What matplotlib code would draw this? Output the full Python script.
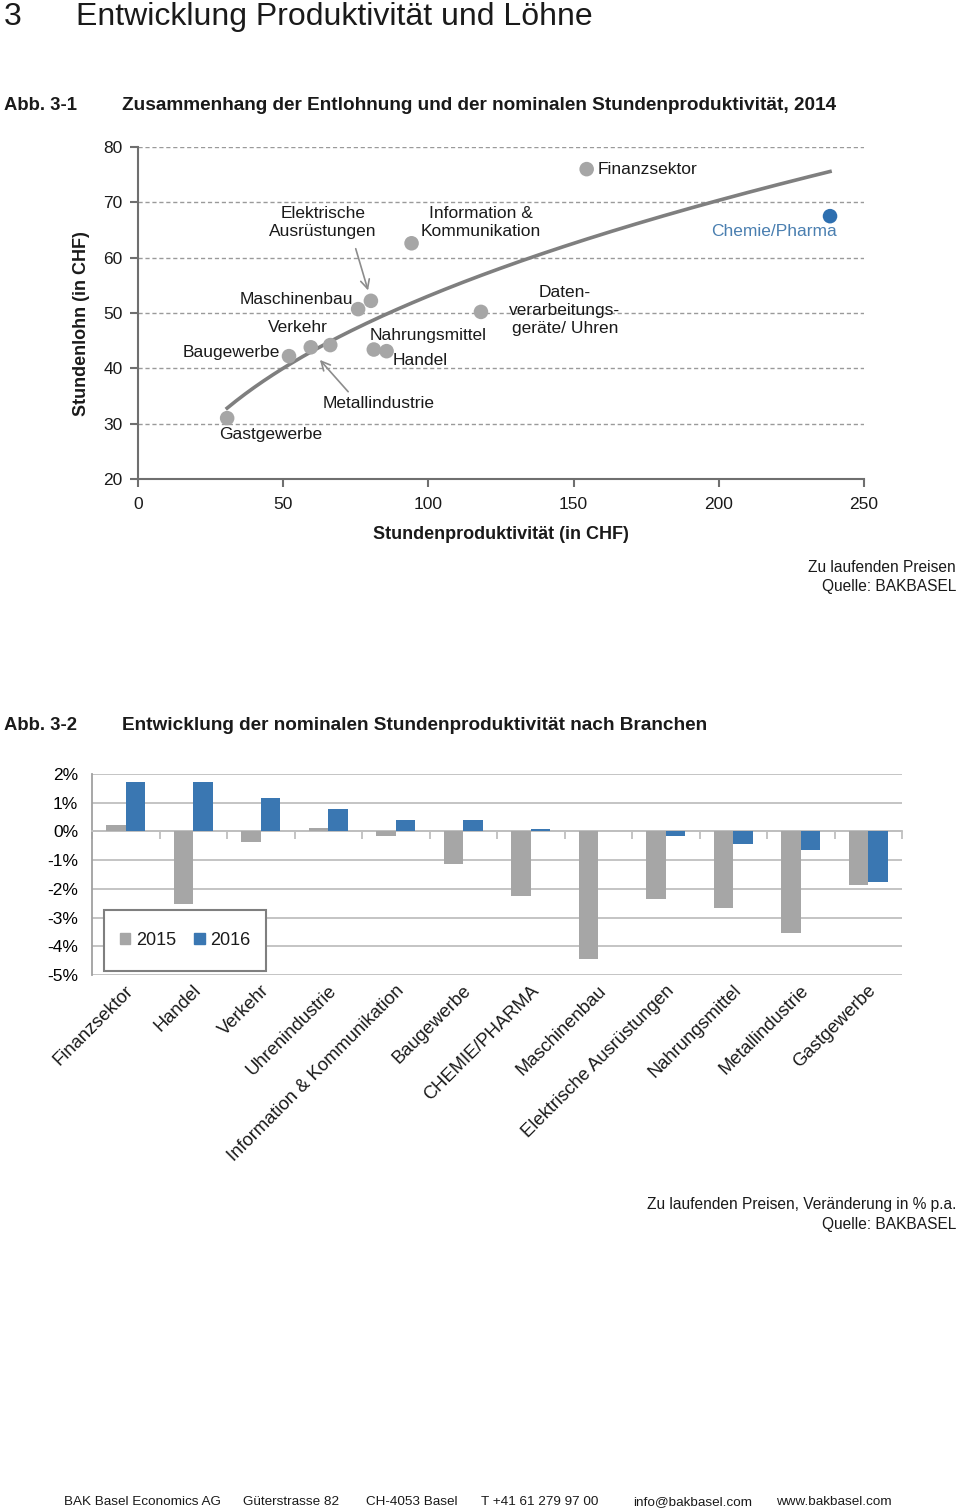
import numpy as np
import matplotlib
matplotlib.use('Agg')
import matplotlib.pyplot as plt
import matplotlib.transforms as mtransforms
from matplotlib.patches import Patch, Rectangle

plt.rcParams['font.family'] = ['Liberation Sans', 'DejaVu Sans']
plt.rcParams['text.color'] = '#1a1a1a'

W, H = 960, 1509
GRAU = '#a6a6a6'
BLAU = '#3a77b2'

#==========================================
# Abb. 3-1: Lohn vs. Stundenproduktivitaet
#==========================================
branchen = ['Gastgewerbe', 'Baugewerbe', 'Verkehr', 'Metallindustrie', 'Maschinenbau',
            'Elektrische\nAusrüstungen', 'Nahrungsmittel', 'Handel',
            'Information &\nKommunikation', 'Daten-\nverarbeitungs-\ngeräte/ Uhren',
            'Finanzsektor', 'Chemie/Pharma']
produktivitaet = [30.7, 52.0, 59.5, 66.2, 75.8, 80.2, 81.2, 85.6, 94.2, 118.1, 154.5, 238.3]
lohn = [31.0, 42.2, 43.8, 44.2, 50.7, 52.2, 43.4, 43.1, 62.6, 50.2, 76.0, 67.5]
x_ticks = [0, 50, 100, 150, 200, 250]
y_ticks = [20, 30, 40, 50, 60, 70, 80]

# label placement (data coords, alignment)
label_pos = [(45.8, 28.1, 'center'), (48.9, 42.8, 'right'), (55.1, 47.3, 'center'),
             (83.0, 33.7, 'center'), (74.0, 52.4, 'right'), (63.7, 66.3, 'center'),
             (79.9, 46.0, 'left'), (87.8, 41.5, 'left'), (118.1, 66.4, 'center'),
             (147.0, 50.5, 'center'), (158.4, 76.0, 'left'), (240.7, 64.8, 'right')]

#==========================================
# Abb. 3-2: Veraenderung Stundenproduktivitaet
#==========================================
kategorien = ['Finanzsektor', 'Handel', 'Verkehr', 'Uhrenindustrie',
              'Information & Kommunikation', 'Baugewerbe', 'CHEMIE/PHARMA',
              'Maschinenbau', 'Elektrische Ausrüstungen', 'Nahrungsmittel',
              'Metallindustrie', 'Gastgewerbe']
wachstum_2015 = [0.22, -2.51, -0.37, 0.12, -0.15, -1.14, -2.24, -4.45, -2.36, -2.68, -3.52, -1.86]
wachstum_2016 = [1.71, 1.71, 1.16, 0.79, 0.40, 0.40, 0.07, 0.0, -0.15, -0.43, -0.66, -1.76]
pct_ticks = [2, 1, 0, -1, -2, -3, -4, -5]


def box(l, t, r, b):
    return [l / W, 1 - b / H, (r - l) / W, (b - t) / H]


def ftext(x, y, s, **kw):
    fig.text(x / W, 1 - y / H, s, **kw)


fig = plt.figure(figsize=(W / 100, H / 100), dpi=100)

# headings
ftext(4, 25, '3', fontsize=23, va='baseline')
ftext(76, 25, 'Entwicklung Produktivität und Löhne', fontsize=23, va='baseline')
ftext(4, 105, 'Abb. 3-1', fontsize=13.3, weight='bold', va='center')
ftext(122, 105, 'Zusammenhang der Entlohnung und der nominalen Stundenproduktivität, 2014',
      fontsize=13.7, weight='bold', va='center')

#---------------- scatter ----------------
ax = fig.add_axes(box(138, 147, 864, 479))
ax.set_xlim(0, 250)
ax.set_ylim(20, 80)

# power trendline fitted on the data
b, ln_a = np.polyfit(np.log(produktivitaet), np.log(lohn), 1)
xs = np.linspace(min(produktivitaet), max(produktivitaet), 200)
ax.plot(xs, np.exp(ln_a) * xs ** b, color='#7f7f7f', lw=2.6, zorder=2)

farben = [GRAU] * (len(branchen) - 1) + ['#2e6fb0']
ax.scatter(produktivitaet, lohn, s=110, color=farben, zorder=3, linewidths=0)

for name, (tx, ty, ha) in zip(branchen, label_pos):
    col = '#4a7fb0' if name == 'Chemie/Pharma' else '#1a1a1a'
    ax.text(tx, ty, name, ha=ha, va='center', fontsize=12.5, color=col,
            linespacing=1.25, zorder=4)

arrow = dict(arrowstyle='->', color='#8c8c8c', lw=1.2, mutation_scale=16)
ax.annotate('', xy=(79.5, 53.6), xytext=(74.7, 62.1), arrowprops=arrow)
ax.annotate('', xy=(62.0, 41.9), xytext=(73.0, 35.4), arrowprops=arrow)

ax.set_xticks(x_ticks)
ax.set_yticks(y_ticks)
ax.grid(axis='y', linestyle=(0, (3, 2)), color='#9a9a9a', lw=1)
ax.set_axisbelow(True)
for sp in ['top', 'right']:
    ax.spines[sp].set_visible(False)
for sp in ['left', 'bottom']:
    ax.spines[sp].set_color('#6f6f6f')
    ax.spines[sp].set_linewidth(1.5)
ax.tick_params(axis='both', colors='#6f6f6f', labelcolor='#1a1a1a', labelsize=12.5,
               length=6, width=1.5)
ax.tick_params(axis='x', pad=7)
ax.tick_params(axis='y', pad=5)

ftext(501, 534, 'Stundenproduktivität (in CHF)', fontsize=13, weight='bold',
      ha='center', va='center')
ftext(82, 324, 'Stundenlohn (in CHF)', fontsize=13, weight='bold',
      ha='center', va='center', rotation=90)

ftext(956, 567, 'Zu laufenden Preisen', fontsize=11.2, ha='right', va='center')
ftext(956, 587, 'Quelle: BAKBASEL', fontsize=11.2, ha='right', va='center')

#---------------- bars ----------------
ftext(4, 726, 'Abb. 3-2', fontsize=13.3, weight='bold', va='center')
ftext(122, 726, 'Entwicklung der nominalen Stundenproduktivität nach Branchen',
      fontsize=13.7, weight='bold', va='center')

bx = fig.add_axes(box(92, 774, 902, 975))
pos = np.arange(len(kategorien))
bw = 0.29
bx.bar(pos - bw / 2, wachstum_2015, bw, color=GRAU, label='2015', zorder=3)
bx.bar(pos + bw / 2, wachstum_2016, bw, color=BLAU, label='2016', zorder=3)
bx.set_xlim(-0.5, len(kategorien) - 0.5)
bx.set_ylim(-5, 2)
bx.set_yticks(pct_ticks)
bx.set_yticklabels([f'{v}%' for v in pct_ticks])
bx.grid(axis='y', color='#bfbfbf', lw=1.3)
bx.set_axisbelow(True)

bx.spines['bottom'].set_position(('data', 0))
bx.spines['bottom'].set_color('#bfbfbf')
bx.spines['bottom'].set_linewidth(1.3)
bx.spines['left'].set_color('#a0a0a0')
bx.spines['left'].set_linewidth(1.3)
for sp in ['top', 'right']:
    bx.spines[sp].set_visible(False)
bx.set_xticks(np.arange(len(kategorien) + 1) - 0.5)
bx.set_xticklabels([])
bx.tick_params(axis='x', length=6, width=1.3, color='#bfbfbf')
bx.tick_params(axis='y', length=0, labelsize=12.5, pad=10)

trans = mtransforms.blended_transform_factory(bx.transData, bx.transAxes)
for i, name in enumerate(kategorien):
    bx.text(i + 0.08, -0.065, name, transform=trans, rotation=45, ha='right', va='center',
            rotation_mode='anchor', fontsize=13.2)

# legend with hand-sized frame
bx.add_patch(Rectangle((0.0148, 0.02), 0.2, 0.3035, transform=bx.transAxes,
                       facecolor='white', edgecolor='#7f7f7f', lw=1.5, zorder=5))
handles = [Patch(color=GRAU, label='2015'), Patch(color=BLAU, label='2016')]
leg = bx.legend(handles=handles, loc='center', bbox_to_anchor=(0.1148, 0.172),
                ncol=2, frameon=False, fontsize=13, handlelength=0.6, handleheight=0.6,
                handletextpad=0.3, columnspacing=1.0, borderaxespad=0)
leg.set_zorder(6)

ftext(956, 1205, 'Zu laufenden Preisen, Veränderung in % p.a.', fontsize=11.2,
      ha='right', va='center')
ftext(956, 1224, 'Quelle: BAKBASEL', fontsize=11.2, ha='right', va='center')

# footer
footer = [(64, 'BAK Basel Economics AG'), (243, 'Güterstrasse 82'), (366, 'CH-4053 Basel'),
          (481, 'T +41 61 279 97 00'), (633, 'info@bakbasel.com'), (776, 'www.bakbasel.com')]
for fx, s in footer:
    ftext(fx, 1505, s, fontsize=9.7, va='baseline')

fig.savefig('out.png', dpi=100)
